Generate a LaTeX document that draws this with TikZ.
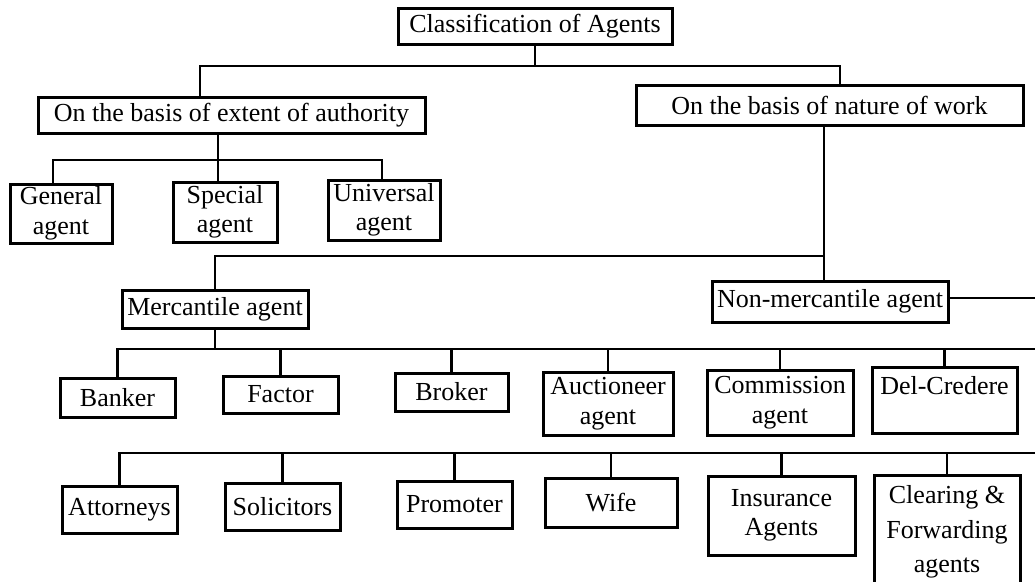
\documentclass[tikz,border=0pt]{standalone}
\usepackage{fontspec}
\setmainfont{Liberation Serif}
\begin{document}
\begin{tikzpicture}[x=1pt,y=-1pt,
  box/.style={draw,line width=3pt,inner sep=0pt,align=center,
    font=\fontsize{26}{29.5}\selectfont},
  conn/.style={line width=2.8pt}]
\path[fill=white] (0,0) rectangle (1035,581);
\clip (0,0) rectangle (1035,581);
% nodes
\node[box,minimum width=274pt,minimum height=36pt] (title) at (535,26) {Classification of Agents};
\node[box,minimum width=387pt,minimum height=36pt] (auth) at (231.5,115) {On the basis of extent of authority};
\node[box,minimum width=387pt,minimum height=40pt] (nature) at (829.5,105) {On the basis of nature of work};
\node[box,minimum width=102pt,minimum height=59pt] (general) at (61,213.5) {General\\agent};
\node[box,minimum width=104pt,minimum height=60pt] (special) at (225,212) {Special\\agent};
\node[box,minimum width=112pt,minimum height=60pt] (universal) at (384,210) {Universal\\agent};
\node[box,minimum width=186pt,minimum height=38pt] (merc) at (215,309) {Mercantile agent};
\node[box,minimum width=236pt,minimum height=41pt] (nonmerc) at (830,301.5) {Non-mercantile agent};
\node[box,minimum width=115pt,minimum height=39pt] (banker) at (117.5,397.5) {Banker};
\node[box,minimum width=115pt,minimum height=37pt] (factor) at (280.5,394.5) {Factor};
\node[box,minimum width=113pt,minimum height=38pt] (broker) at (451.5,392) {Broker};
\node[box,minimum width=130pt,minimum height=63pt] (auction) at (608,403.5) {Auctioneer\\agent};
\node[box,minimum width=146pt,minimum height=65pt] (commission) at (780,402.5) {Commission\\agent};
\node[box,minimum width=145pt,minimum height=66pt] (delcredere) at (944.5,400) {Del-Credere\\\mbox{}};
\node[box,minimum width=115pt,minimum height=47pt] (attorneys) at (119.5,509.5) {Attorneys};
\node[box,minimum width=115pt,minimum height=47pt] (solicitors) at (282.5,506.5) {Solicitors};
\node[box,minimum width=115pt,minimum height=47pt] (promoter) at (454.5,504.5) {Promoter};
\node[box,minimum width=132pt,minimum height=49pt] (wife) at (611,502.5) {Wife};
\node[box,minimum width=147pt,minimum height=79pt] (insurance) at (781.5,515.5) {Insurance\\Agents};
\node[box,minimum width=146pt,minimum height=114pt] (clearing) at (947,532) {Clearing \&\\[5pt]Forwarding\\[5pt]agents};
% junction coordinates
\coordinate (L1a) at (200,66);
\coordinate (L1b) at (840,66);
\coordinate (L2a) at (53,160);
\coordinate (L2m) at (218,160);
\coordinate (L2b) at (382,160);
\coordinate (N1) at (824,256);
\coordinate (M1) at (215,256);
\coordinate (E1) at (1040,298);
\coordinate (R3) at (0,349);
\coordinate (R3e) at (1040,349);
\coordinate (R4) at (0,453);
\coordinate (R4e) at (1040,453);
% connectors
\draw[conn] (title.south) -- (title.south |- L1a);
\draw[conn] (auth.north -| L1a) -- (L1a) -- (L1b) -- (nature.north -| L1b);
\draw[conn] (auth.south -| L2m) -- (special.north -| L2m);
\draw[conn] (general.north -| L2a) -- (L2a) -- (L2b) -- (universal.north -| L2b);
\draw[conn] (nature.south -| N1) -- (nonmerc.north -| N1);
\draw[conn] (N1) -- (M1) -- (merc.north -| M1);
\draw[conn] (nonmerc.east |- E1) -- (E1);
\draw[conn] (merc.south) -- (merc.south |- R3);
\draw[conn] (banker.north) -- (banker.north |- R3) -- (R3e);
\foreach \n in {factor,broker,auction,commission,delcredere}
  \draw[conn] (\n.north) -- (\n.north |- R3);
\draw[conn] (attorneys.north) -- (attorneys.north |- R4) -- (R4e);
\foreach \n in {solicitors,promoter,wife,insurance,clearing}
  \draw[conn] (\n.north) -- (\n.north |- R4);
\end{tikzpicture}
\end{document}
